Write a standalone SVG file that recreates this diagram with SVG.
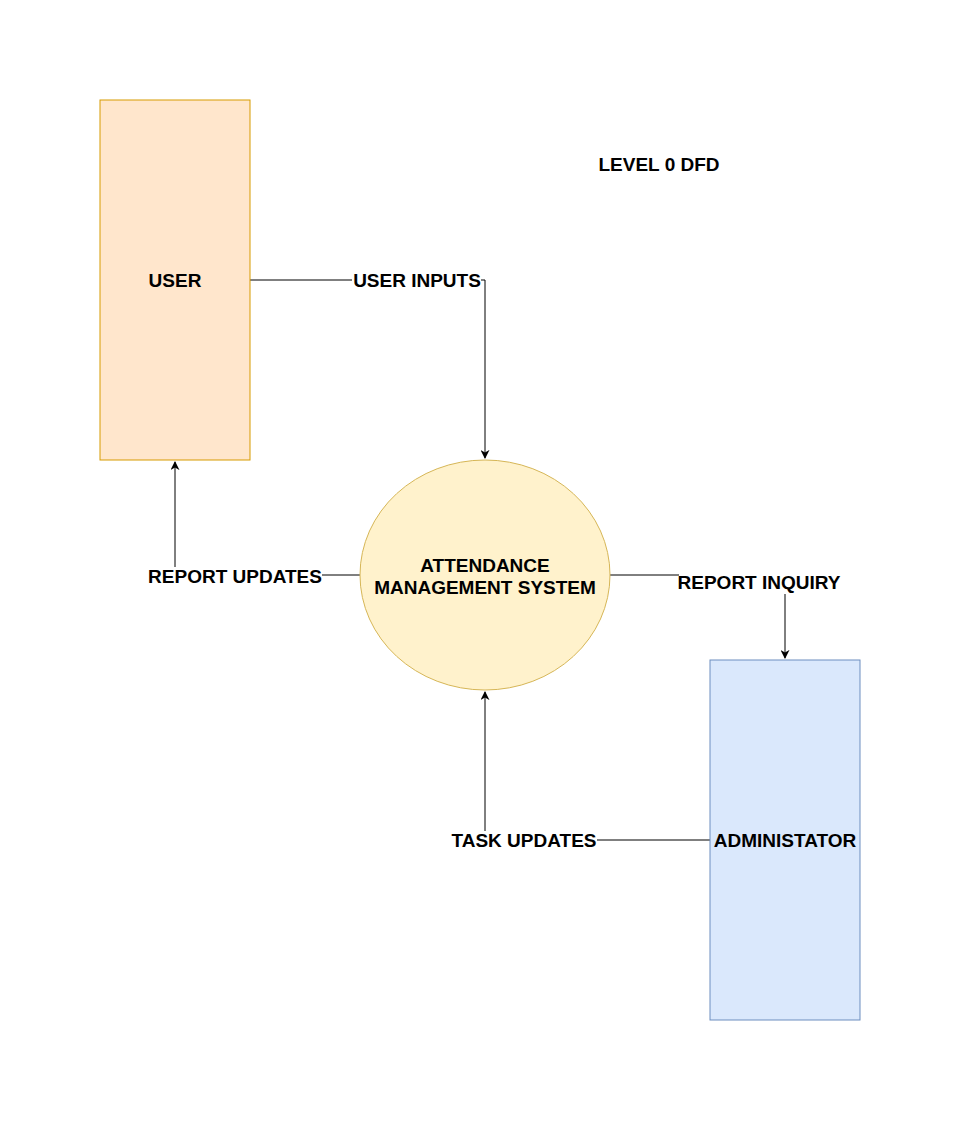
<svg xmlns="http://www.w3.org/2000/svg" width="962" height="1122" viewBox="0 0 962 1122">
<defs>
<marker id="arr" viewBox="0 0 10 10" refX="9" refY="5" markerWidth="9" markerHeight="9" markerUnits="userSpaceOnUse" orient="auto">
<path d="M0,0 L10,5 L0,10 L3,5 Z" fill="#000"/>
</marker>
</defs>
<style>
text{font-family:"Liberation Sans",Arial,sans-serif;font-weight:bold;font-size:19px;fill:#000;text-anchor:middle}
.edge{fill:none;stroke:#000;stroke-width:1}
.lbl{fill:#fff;stroke:none}
</style>
<rect width="962" height="1122" fill="#fff"/>
<g id="connectors">
<path class="edge" d="M250,280 H485 V458" marker-end="url(#arr)"/>
<path class="edge" d="M360,575 H175 V462" marker-end="url(#arr)"/>
<path class="edge" d="M610,575 H785 V658" marker-end="url(#arr)"/>
<path class="edge" d="M710,840 H485 V692" marker-end="url(#arr)"/>
<rect class="lbl" x="352" y="272" width="129" height="18"/>
<text x="417" y="287">USER INPUTS</text>
<rect class="lbl" x="147" y="567" width="175" height="18"/>
<text x="235" y="583">REPORT UPDATES</text>
<rect class="lbl" x="679" y="574" width="161" height="20"/>
<text x="759" y="589">REPORT INQUIRY</text>
<rect class="lbl" x="451" y="831" width="146" height="18"/>
<text x="524" y="847">TASK UPDATES</text>
</g>
<g id="user">
<rect x="100" y="100" width="150" height="360" fill="#ffe6cc" stroke="#d79b00"/>
<text x="175" y="287">USER</text>
</g>
<g id="ams">
<ellipse cx="485" cy="575" rx="125" ry="115" fill="#fff2cc" stroke="#d6b656"/>
<text x="485" y="572">ATTENDANCE</text>
<text x="485" y="594">MANAGEMENT SYSTEM</text>
</g>
<g id="admin">
<rect x="710" y="660" width="150" height="360" fill="#dae8fc" stroke="#6c8ebf"/>
<text x="785" y="847">ADMINISTATOR</text>
</g>
<g id="title">
<text x="659" y="171">LEVEL 0 DFD</text>
</g>
</svg>
